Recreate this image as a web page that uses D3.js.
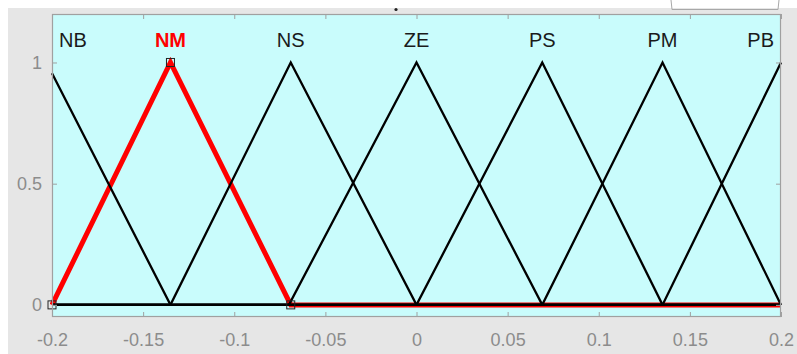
<!DOCTYPE html>
<html>
<head>
<meta charset="utf-8">
<script src="https://cdn.jsdelivr.net/npm/d3@7"></script>
<style>
  html, body { margin: 0; padding: 0; background: #ffffff; }
  svg { display: block; }
  text { font-family: "Liberation Sans", Arial, Helvetica, sans-serif; }
</style>
</head>
<body>
<svg id="chart" width="797" height="354"></svg>
<script>
// ---- data ----
const mfNames = ["NB", "NM", "NS", "ZE", "PS", "PM", "PB"];
const mfA = [-0.27, -0.2, -0.135, -0.07, 0, 0.069, 0.135];
const mfB = [-0.203, -0.135, -0.069, 0, 0.069, 0.135, 0.2];
const mfC = [-0.135, -0.069, 0, 0.069, 0.135, 0.2, 0.265];
const selectedMF = "NM";
const xRange = [-0.2, 0.2];
const xTicks = [-0.2, -0.15, -0.1, -0.05, 0, 0.05, 0.1, 0.15, 0.2];
const xTickLabels = ["-0.2", "-0.15", "-0.1", "-0.05", "0", "0.05", "0.1", "0.15", "0.2"];
const yTicks = [0, 0.5, 1];
const yTickLabels = ["0", "0.5", "1"];

// ---- layout ----
const W = 797, H = 354;
const L = 52, R = 781, T = 14, B = 317;
const svg = d3.select("#chart");

// figure background
svg.append("rect").attr("x", 8).attr("y", 8).attr("width", W - 8).attr("height", H - 8).attr("fill", "#e6e6e6");
// partial widgets at top
svg.append("path").attr("d", "M671,0 L672,9.5 L778,9.5 L779,0").attr("fill", "none").attr("stroke", "#a8a8a8").attr("stroke-width", 1);
svg.append("circle").attr("cx", 396).attr("cy", 9.5).attr("r", 1.6).attr("fill", "#222");

const x = d3.scaleLinear().domain(xRange).range([L, R]);
const y = d3.scaleLinear().domain([-0.05, 1.2]).range([B, T]);

// plot background
svg.append("rect").attr("x", L).attr("y", T).attr("width", R - L).attr("height", B - T).attr("fill", "#c9fcfc");

svg.append("clipPath").attr("id", "clip").append("rect")
  .attr("x", L - 2).attr("y", T).attr("width", R - L + 4).attr("height", B - T);

function trimf(v, a, b, c) {
  if (v <= a || v >= c) return 0;
  if (v <= b) return (b === a) ? 1 : (v - a) / (b - a);
  return (c === b) ? 1 : (c - v) / (c - b);
}
function mfPoints(i) {
  let xs = [xRange[0], mfA[i], mfB[i], mfC[i], xRange[1]]
    .filter(v => v >= xRange[0] && v <= xRange[1]);
  xs = Array.from(new Set(xs)).sort((p, q) => p - q);
  return xs.map(v => [v, v === mfB[i] ? 1 : trimf(v, mfA[i], mfB[i], mfC[i])]);
}
const line = d3.line().x(d => x(d[0])).y(d => y(d[1]));

const g = svg.append("g").attr("clip-path", "url(#clip)");
const selIdx = mfNames.indexOf(selectedMF);

// selected MF (red, thick) drawn first
g.append("path").datum(mfPoints(selIdx))
  .attr("d", line).attr("fill", "none").attr("stroke", "#ff0000")
  .attr("stroke-width", 5).attr("stroke-linejoin", "miter");

// other MFs (black)
mfNames.forEach((n, i) => {
  if (i === selIdx) return;
  g.append("path").datum(mfPoints(i))
    .attr("d", line).attr("fill", "none").attr("stroke", "#000")
    .attr("stroke-width", 2.3).attr("stroke-linejoin", "miter");
});

// markers on selected MF parameters
const markerPts = [mfA[selIdx], mfB[selIdx], mfC[selIdx]]
  .map(v => [v, v === mfB[selIdx] ? 1 : trimf(v, mfA[selIdx], mfB[selIdx], mfC[selIdx])]);
svg.selectAll(".mk").data(markerPts).enter().append("rect")
  .attr("x", d => x(d[0]) - 4).attr("y", d => y(d[1]) - 4)
  .attr("width", 8).attr("height", 8)
  .attr("fill", "none").attr("stroke", "#222").attr("stroke-width", 1);

// axes
const axCol = "#a0a0a0", txtCol = "#8c8c8c";
function styleAxis(sel) {
  sel.select(".domain").remove();
  sel.selectAll("line").attr("stroke", axCol);
  sel.selectAll("text").attr("fill", txtCol).style("font-size", "18px")
    .style("font-family", '"Liberation Sans", Arial, sans-serif');
}
svg.append("g").attr("transform", `translate(0,${B})`)
  .call(d3.axisBottom(x).tickValues(xTicks).tickFormat((d, i) => xTickLabels[i])
    .tickSizeInner(-5).tickSizeOuter(0).tickPadding(16))
  .call(styleAxis);
svg.append("g").attr("transform", `translate(0,${T})`)
  .call(d3.axisTop(x).tickValues(xTicks).tickFormat("").tickSizeInner(-5).tickSizeOuter(0))
  .call(styleAxis);
svg.append("g").attr("transform", `translate(${L},0)`)
  .call(d3.axisLeft(y).tickValues(yTicks).tickFormat((d, i) => yTickLabels[i])
    .tickSizeInner(-5).tickSizeOuter(0).tickPadding(10))
  .call(styleAxis);
svg.append("g").attr("transform", `translate(${R},0)`)
  .call(d3.axisRight(y).tickValues(yTicks).tickFormat("").tickSizeInner(-5).tickSizeOuter(0))
  .call(styleAxis);

// box
svg.append("rect").attr("x", L + 0.5).attr("y", T + 0.5).attr("width", R - L - 1).attr("height", B - T - 1)
  .attr("fill", "none").attr("stroke", axCol).attr("stroke-width", 1.2);

// MF labels
const labelY = y(1.062);
mfNames.forEach((n, i) => {
  const t = svg.append("text").text(n)
    .attr("y", labelY).attr("text-anchor", "middle")
    .style("font-size", "20px")
    .attr("fill", i === selIdx ? "#ff0000" : "#1a1a1a")
    .style("font-weight", i === selIdx ? "bold" : "normal");
  const w = t.node().getComputedTextLength();
  let cx = x(mfB[i]);
  cx = Math.max(L + 7 + w / 2, Math.min(R - 7 - w / 2, cx));
  t.attr("x", cx);
});
</script>
</body>
</html>
